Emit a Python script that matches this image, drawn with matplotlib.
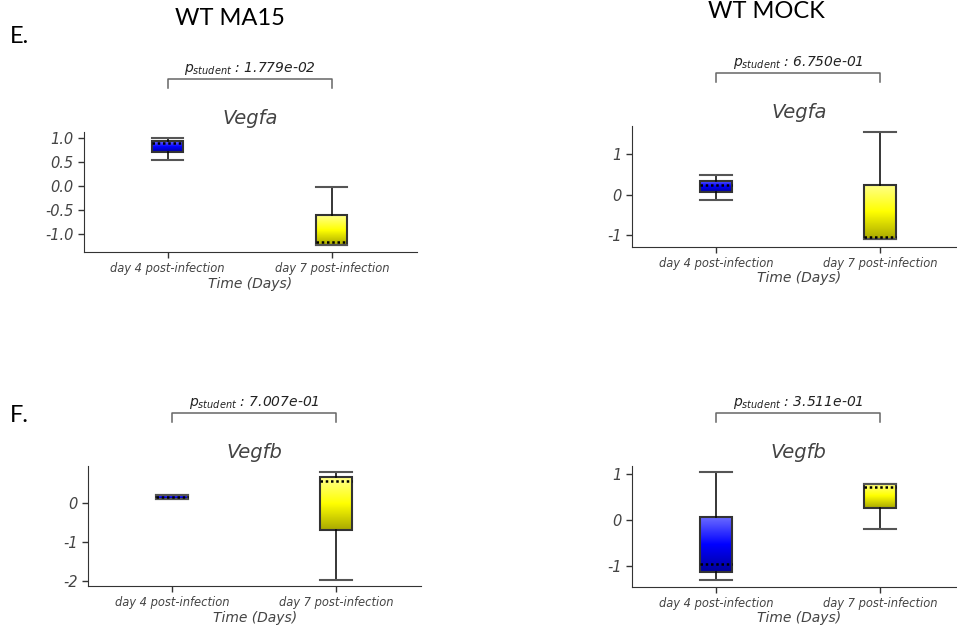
import numpy as np
import matplotlib
matplotlib.use("Agg")
import matplotlib.pyplot as plt
from matplotlib.colors import LinearSegmentedColormap
from matplotlib.transforms import blended_transform_factory

plt.rcParams['axes.unicode_minus'] = False
plt.rcParams['mathtext.fontset'] = 'dejavusans'

# data
days = ["day 4 post-infection", "day 7 post-infection"]
panel_titles = ["WT MA15", "WT MOCK"]
row_labels = ["E.", "F."]
genes = ["Vegfa", "Vegfa", "Vegfb", "Vegfb"]
pvalues = ["1.779e-02", "6.750e-01", "7.007e-01", "3.511e-01"]

# per panel: [day4, day7]
whis_lo = [[0.54, -1.22], [-0.13, -1.10], [0.11, -1.98], [-1.31, -0.20]]
q1 = [[0.71, -1.22], [0.05, -1.10], [0.11, -0.69], [-1.13, 0.26]]
medians = [[0.90, -1.17], [0.245, -1.04], [0.16, 0.56], [-0.96, 0.73]]
q3 = [[0.93, -0.60], [0.33, 0.23], [0.21, 0.67], [0.06, 0.79]]
whis_hi = [[1.00, -0.03], [0.47, 1.53], [0.21, 0.80], [1.05, 0.79]]

yticks = [[-1.0, -0.5, 0.0, 0.5, 1.0], [-1, 0, 1], [-2, -1, 0], [-1, 0, 1]]
ytick_fmt = ["{:.1f}", "{:d}", "{:d}", "{:d}"]
ylims = [(-1.37, 1.12), (-1.28, 1.68), (-2.14, 0.96), (-1.46, 1.18)]

# axes rectangles [left, bottom, width, height] in figure fraction
rects = [[0.0878, 0.5968, 0.348, 0.192],
         [0.6607, 0.6053, 0.348, 0.193],
         [0.0923, 0.0624, 0.348, 0.192],
         [0.6607, 0.0613, 0.348, 0.193]]

cmaps = [LinearSegmentedColormap.from_list("b", ["#00009a", "#0000ff", "#6b6bff"]),
         LinearSegmentedColormap.from_list("y", ["#a8a800", "#ffff00", "#ffff8c"])]

grey = "#444444"
fig = plt.figure(figsize=(9.57, 6.25), dpi=100)

for i in range(4):
    ax = fig.add_axes(rects[i])
    stats = []
    for k in range(2):
        stats.append(dict(med=medians[i][k], q1=q1[i][k], q3=q3[i][k],
                          whislo=whis_lo[i][k], whishi=whis_hi[i][k], fliers=[]))
    bp = ax.bxp(stats, positions=[0, 1], widths=0.19, capwidths=0.19,
                patch_artist=True, showfliers=False,
                boxprops=dict(facecolor="none", edgecolor="#333333", linewidth=1.5),
                whiskerprops=dict(color="black", linewidth=1.1),
                capprops=dict(color="#555555", linewidth=1.5),
                medianprops=dict(color="black", linestyle=(0, (1, 1.1)), linewidth=1.8))
    grad = np.linspace(0, 1, 256).reshape(-1, 1)
    for k, patch in enumerate(bp['boxes']):
        im = ax.imshow(grad, cmap=cmaps[k], origin='lower', aspect='auto',
                       extent=[k - 0.095, k + 0.095, q1[i][k], q3[i][k]], zorder=1.5)
        im.set_clip_path(patch)
    for m in bp['medians']:
        m.set_zorder(3)

    ax.set_xlim(-0.51, 1.52)
    ax.set_ylim(*ylims[i])
    ax.set_xticks([0, 1])
    ax.set_xticklabels(days, fontsize=8.3, style='italic', color=grey)
    ax.set_yticks(yticks[i])
    ax.set_yticklabels([ytick_fmt[i].format(int(v) if ytick_fmt[i] == "{:d}" else v)
                        for v in yticks[i]], fontsize=10.5, style='italic', color=grey)
    ax.tick_params(length=4, color="#333333", width=1)
    for s in ["top", "right"]:
        ax.spines[s].set_visible(False)
    for s in ["left", "bottom"]:
        ax.spines[s].set_color("#333333")
    ax.set_xlabel("Time (Days)", fontsize=10, style='italic', color=grey, labelpad=1)

    ax.text(0.5, 1.11, genes[i], transform=ax.transAxes, ha='center', va='center',
            fontsize=14, style='italic', color=grey)

    tr = blended_transform_factory(ax.transData, ax.transAxes)
    ax.plot([0, 0, 1, 1], [1.365, 1.44, 1.44, 1.365], color="#666666", lw=1.1,
            transform=tr, clip_on=False)
    ax.text(0.5, 1.46, r"$p_{student}$ : " + pvalues[i], transform=tr,
            ha='center', va='bottom', fontsize=10, style='italic', color="#222222")

fig.text(0.240, 0.970, panel_titles[0], ha='center', va='center', fontsize=17,
         family='Lato')
fig.text(0.801, 0.981, panel_titles[1], ha='center', va='center', fontsize=17,
         family='Lato')
fig.text(0.010, 0.942, row_labels[0], ha='left', va='center', fontsize=17, family='Lato')
fig.text(0.010, 0.336, row_labels[1], ha='left', va='center', fontsize=17, family='Lato')

fig.savefig("out.png", dpi=100)
